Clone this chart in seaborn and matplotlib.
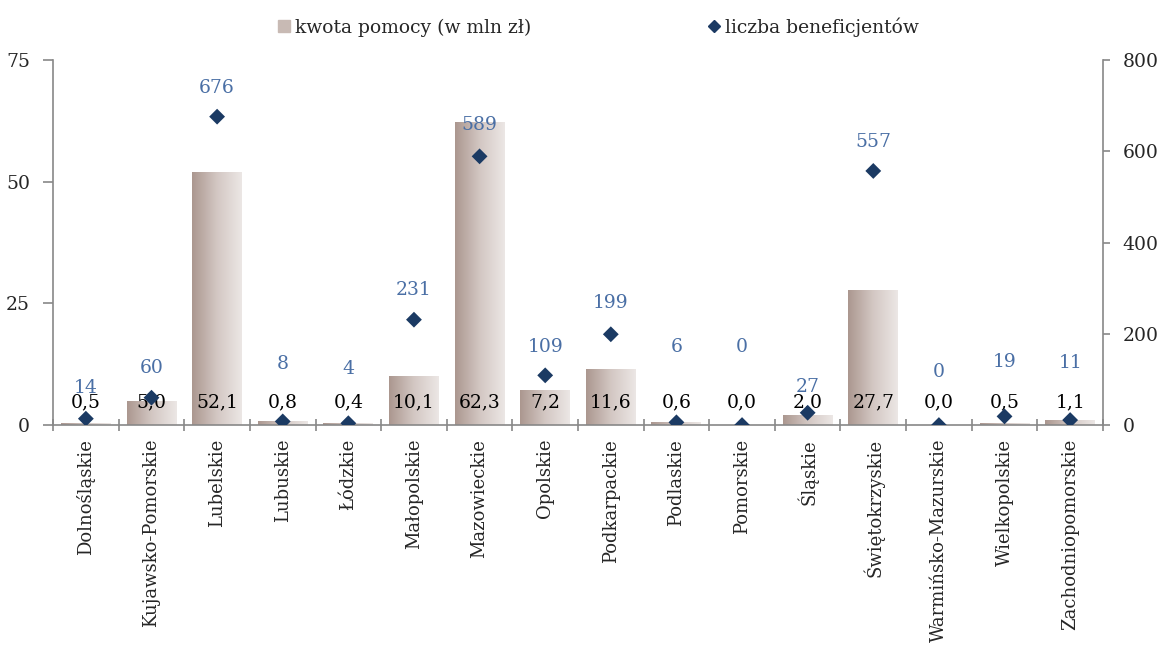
import numpy as np
import pandas as pd
import matplotlib
matplotlib.use("Agg")
import matplotlib.pyplot as plt
import seaborn as sns
from matplotlib.colors import LinearSegmentedColormap
from matplotlib.lines import Line2D

regions = ["Dolnośląskie", "Kujawsko-Pomorskie", "Lubelskie", "Lubuskie", "Łódzkie",
           "Małopolskie", "Mazowieckie", "Opolskie", "Podkarpackie", "Podlaskie",
           "Pomorskie", "Śląskie", "Świętokrzyskie", "Warmińsko-Mazurskie",
           "Wielkopolskie", "Zachodniopomorskie"]
amount = [0.5, 5.0, 52.1, 0.8, 0.4, 10.1, 62.3, 7.2, 11.6, 0.6, 0.0, 2.0, 27.7, 0.0, 0.5, 1.1]
beneficiaries = [14, 60, 676, 8, 4, 231, 589, 109, 199, 6, 0, 27, 557, 0, 19, 11]
left_ticks = [0, 25, 50, 75]
right_ticks = [0, 200, 400, 600, 800]

# label offsets (pixels above marker) for beneficiary labels, as placed in the original
label_dy = [31, 30, 29, 57, 54, 30, 31, 28, 31, 75, 78, 26, 29, 53, 54, 57]

df = pd.DataFrame({"region": regions, "amount": amount, "benef": beneficiaries})

sns.set_style("white")
plt.rcParams["font.family"] = ["DejaVu Serif"]
plt.rcParams["font.size"] = 12

fig = plt.figure(figsize=(11.61, 6.46), dpi=100)
ax = fig.add_axes([0.0457, 0.342, 0.9043, 0.565])

sns.barplot(data=df, x="region", y="amount", ax=ax, color="#c8bab4", width=0.76,
            edgecolor="none", saturation=1)

# gradient fill for bars
cmap = LinearSegmentedColormap.from_list("g", ["#ab978f", "#d3c7c3", "#ece7e5"])
grad = np.linspace(0, 1, 256).reshape(1, -1)
for p in list(ax.patches):
    x0, y0 = p.get_x(), p.get_y()
    w, h = p.get_width(), p.get_height()
    if h <= 0:
        p.set_alpha(0)
        continue
    p.set_facecolor("none")
    im = ax.imshow(grad, cmap=cmap, aspect="auto", extent=[x0, x0 + w, y0, y0 + h],
                   zorder=2, interpolation="bilinear")
    im.set_clip_path(p)
ax.set_xlim(-0.5, len(regions) - 0.5)
ax.set_ylim(0, 75)

for i, v in enumerate(amount):
    ax.annotate(f"{v:.1f}".replace(".", ","), (i, 0), xytext=(0, 23), textcoords="offset pixels",
                ha="center", va="center", fontsize=13.5, color="black", zorder=6)

ax2 = ax.twinx()
sns.scatterplot(data=df, x="region", y="benef", ax=ax2, marker="D", s=65,
                color="#1b3a63", edgecolor="none", zorder=5)
ax2.set_ylim(0, 800)
for i, v in enumerate(beneficiaries):
    ax2.annotate(str(v), (i, v), xytext=(0, label_dy[i]), textcoords="offset pixels",
                 ha="center", va="center", fontsize=13.5, color="#4a6fa5")

ax.set_yticks(left_ticks)
ax2.set_yticks(right_ticks)
for a in (ax, ax2):
    a.set_xlabel("")
    a.set_ylabel("")
ax.set_xticks(range(len(regions)))
ax.set_xticklabels(regions, rotation=90, fontsize=13)
ax.tick_params(axis="x", which="major", bottom=False, length=0, pad=10)
ax.set_xticks(np.arange(-0.5, len(regions), 1), minor=True)
ax.tick_params(axis="x", which="minor", bottom=True, length=9, direction="inout",
               color="#888888", width=1.2)
ax.tick_params(axis="y", left=True, direction="out", length=7.5, color="#888888",
               width=1.2, labelsize=13.5, pad=9)
ax2.tick_params(axis="y", right=True, direction="out", length=5, color="#888888",
                width=1.2, labelsize=13.5, pad=9)

for a in (ax, ax2):
    a.spines["top"].set_visible(False)
    for s in ("left", "right", "bottom"):
        a.spines[s].set_color("#888888")
        a.spines[s].set_linewidth(1.2)
ax.spines["right"].set_visible(False)
ax2.spines["left"].set_visible(False)
ax2.spines["bottom"].set_visible(False)

handles = [Line2D([], [], marker="s", ls="none", color="#c8bab4", markersize=8),
           Line2D([], [], marker="D", ls="none", color="#1b3a63", markersize=6)]
fig.legend(handles, ["kwota pomocy (w mln zł)", "liczba beneficjentów"], loc="center",
           bbox_to_anchor=(0.514, 0.958), ncol=2, frameon=False, fontsize=13.5,
           columnspacing=9.2, handletextpad=0.1, handlelength=1.0)

fig.savefig("out.png", dpi=100)
